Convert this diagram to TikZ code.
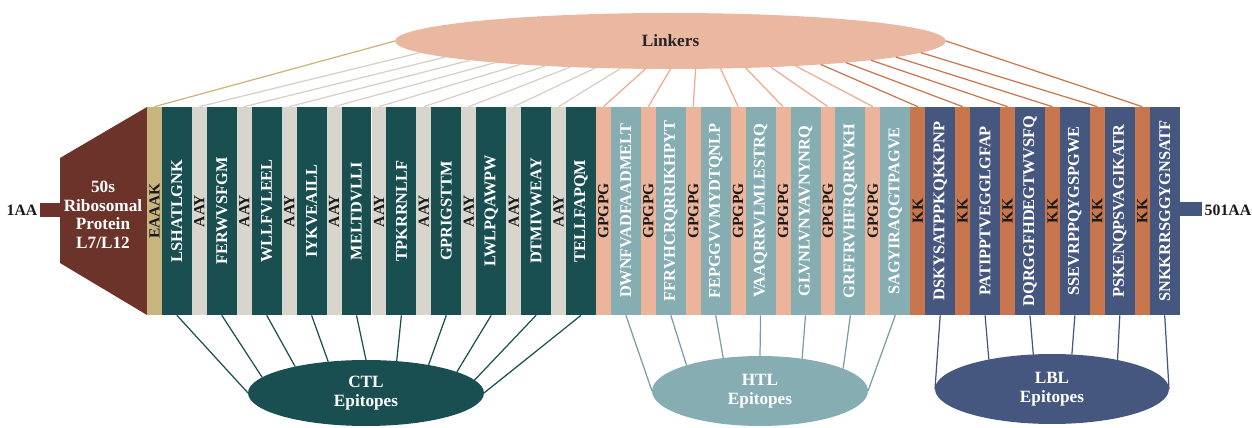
\documentclass[tikz,border=0pt]{standalone}
\usepackage{fontspec}
\setmainfont{Liberation Serif}
\usepackage{graphicx}
\usetikzlibrary{shapes.geometric,calc}

\definecolor{protC}{HTML}{6B3329}
\definecolor{eaC}{HTML}{C8B57E}
\definecolor{ctlC}{HTML}{1A4F51}
\definecolor{aayC}{HTML}{D8D5CD}
\definecolor{aayL}{HTML}{D3D0C6}
\definecolor{gpgC}{HTML}{EBB49B}
\definecolor{gpgL}{HTML}{EDAA8E}
\definecolor{htlC}{HTML}{86AEB2}
\definecolor{kkC}{HTML}{C7764E}
\definecolor{lblC}{HTML}{46577F}
\definecolor{linkC}{HTML}{EAB7A0}

\begin{document}
\begin{tikzpicture}[x=0.02cm, y=-0.02cm,
  band/.style={minimum width=0.6cm, minimum height=4.16cm, inner sep=0pt, text=white, font=\bfseries\fontsize{9.3}{10}\selectfont},
  ctlbox/.style={band, fill=ctlC},
  htlbox/.style={band, fill=htlC},
  lblbox/.style={band, fill=lblC},
  lnk/.style={minimum width=0.298cm, minimum height=4.16cm, inner sep=0pt, text=black!90, font=\bfseries\fontsize{8.8}{9}\selectfont},
  bubble/.style={ellipse, inner sep=0pt, align=center, font=\bfseries\fontsize{9.8}{10.6}\selectfont},
  tag/.style={font=\bfseries\fontsize{9}{9}\selectfont, text=black!90},
  wire/.style={line width=0.7pt}]
\useasboundingbox (0,0) rectangle (1252,428);

	\fill[protC] (60,158) -- (147,107) -- (147,315) -- (60,263) -- cycle;
	\fill[protC] (40,203) rectangle (60,217);
	\fill[lblC] (1180,202) rectangle (1202,216);
	\node[tag] (nterm) at (22,210) {1AA};
	\node[tag] (cterm) at (1228,210) {501AA};
	\node[align=center, text=white, font=\bfseries\fontsize{9.8}{10.6}\selectfont] (prot) at (103,215) {50s\\Ribosomal\\Protein\\L7/L12};

	\node[bubble, fill=linkC, text=black!85, minimum width=11.02cm, minimum height=1.12cm] (link) at (670.5,41) {Linkers};
	\node[bubble, fill=ctlC, text=white, minimum width=4.72cm, minimum height=1.32cm] (ctl) at (366,393) {CTL\\Epitopes};
	\node[bubble, fill=htlC, text=white, minimum width=4.32cm, minimum height=1.4cm] (htl) at (760,391) {HTL\\Epitopes};
	\node[bubble, fill=lblC, text=white, minimum width=4.68cm, minimum height=1.4cm] (lbl) at (1052,389) {LBL\\Epitopes};

	\node[lnk, fill=eaC] (L0) at (154.45,211) {\rotatebox{90}{EAAAK}};
	\foreach \j in {1,...,9}
		\node[lnk, fill=aayC] (L\j) at ({154.45+44.9*\j},211) {\rotatebox{90}{AAY}};
	\foreach \j in {10,...,16}
		\node[lnk, fill=gpgC] (L\j) at ({154.45+44.9*\j},211) {\rotatebox{90}{GPGPG}};
	\foreach \j in {17,...,22}
		\node[lnk, fill=kkC] (L\j) at ({154.45+44.9*\j},211) {\rotatebox{90}{KK}};

	\foreach \s [count=\i from 0] in {LSHATLGNK, FERWVSFGM, WLLFVLEEL, IYKVEAILL, MELTDVLLI, TPKRRNLLF, GPRIGSTTM, LWLPQAWPW, DTMIVWEAY, TELLFAPQM}
		\node[ctlbox] (E\i) at ({176.9+44.9*\i},211) {\rotatebox{90}{\s}};
	\foreach \s [count=\i from 10] in {DWNFVADFAADMELT, FFRVHCRQRRIKHPYT, FEPGGVVMYDTQNLP, VAAQRRVLMLESTRQ, GLVNLVNYAVNYNRQ, GRFFRVHFRQRRVKH, SAGYIRAQGTPAGVE}
		\node[htlbox] (E\i) at ({176.9+44.9*\i},211) {\rotatebox{90}{\s}};
	\foreach \s [count=\i from 17] in {DSKYSATPPKQKKPNP, PATIPPTVEGGLGFAP, DQRGGFHDEGTWVSFQ, SSEVRPPQYGSPGWE, PSKENQPSVAGIKATR, SNKKRRSGGYGNSATF}
		\node[lblbox] (E\i) at ({176.9+44.9*\i},211) {\rotatebox{90}{\s}};

	% points on the ellipses
	\foreach \j in {0,...,22} {
		\pgfmathsetmacro\dx{-275.5+551*\j/22}
		\pgfmathsetmacro\dy{28*sqrt(max(0,1-(\dx/275.5)^2))}
		\coordinate (p\j) at ($(link.center)+(\dx,\dy)$);
	}
	\foreach \f [count=\i from 0] in {-1,-0.88,-0.6,-0.32,0,0.26,0.53,0.77,0.92,1} {
		\pgfmathsetmacro\dy{-33*sqrt(max(0,1-(\f)^2))}
		\coordinate (c\i) at ($(ctl.center)+({118*(\f)},\dy)$);
	}
	\foreach \f [count=\i from 10] in {-1,-0.68,-0.34,0,0.39,0.77,1} {
		\pgfmathsetmacro\dy{-35*sqrt(max(0,1-(\f)^2))}
		\coordinate (c\i) at ($(htl.center)+({108*(\f)},\dy)$);
	}
	\foreach \f [count=\i from 17] in {-1,-0.54,-0.16,0.17,0.56,1} {
		\pgfmathsetmacro\dy{-35*sqrt(max(0,1-(\f)^2))}
		\coordinate (c\i) at ($(lbl.center)+({117*(\f)},\dy)$);
	}

	\draw[wire, eaC] (L0.north) -- (p0);
	\foreach \j in {1,...,9} \draw[wire, aayL] (L\j.north) -- (p\j);
	\foreach \j in {10,...,16} \draw[wire, gpgL] (L\j.north) -- (p\j);
	\foreach \j in {17,...,22} \draw[wire, kkC] (L\j.north) -- (p\j);

	\foreach \i in {0,...,9} \draw[wire, ctlC] (E\i.south) -- (c\i);
	\foreach \i in {10,...,16} \draw[wire, htlC!90!black] (E\i.south) -- (c\i);
	\foreach \i in {17,...,22} \draw[wire, lblC] (E\i.south) -- (c\i);
\end{tikzpicture}
\end{document}
